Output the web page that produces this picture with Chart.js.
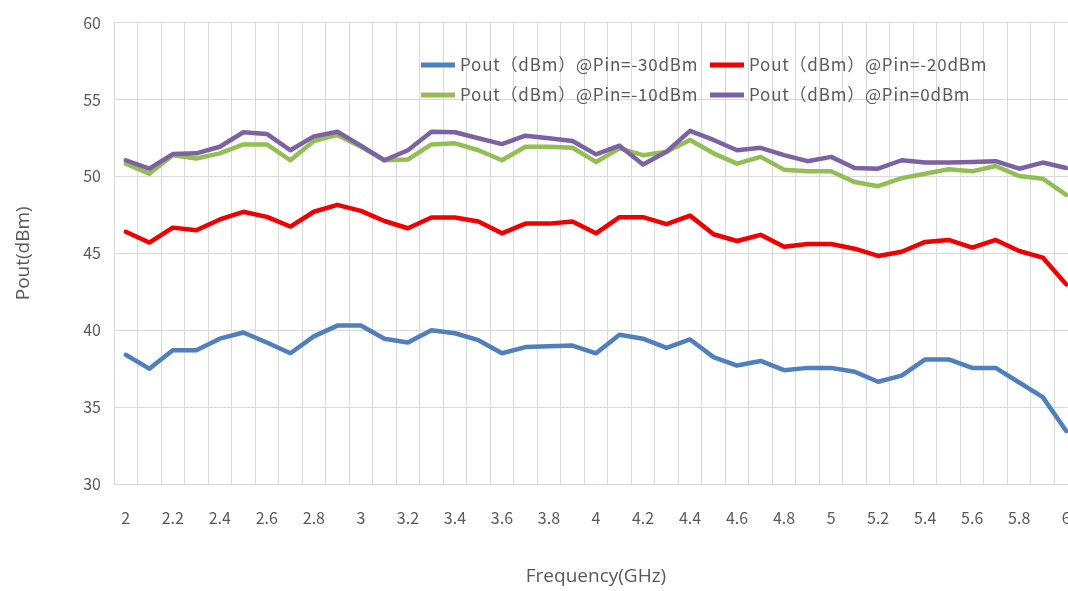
<!DOCTYPE html>
<html>
<head>
<meta charset="utf-8">
<script src="https://cdn.jsdelivr.net/npm/chart.js@4"></script>
<style>
  html, body { margin: 0; padding: 0; background: #fff; overflow: hidden; }
</style>
</head>
<body>
<canvas id="powerChart" width="1078" height="591"></canvas>
<script>
const freqs = ['2', '2.1', '2.2', '2.3', '2.4', '2.5', '2.6', '2.7', '2.8', '2.9',
  '3', '3.1', '3.2', '3.3', '3.4', '3.5', '3.6', '3.7', '3.8', '3.9',
  '4', '4.1', '4.2', '4.3', '4.4', '4.5', '4.6', '4.7', '4.8', '4.9',
  '5', '5.1', '5.2', '5.3', '5.4', '5.5', '5.6', '5.7', '5.8', '5.9', '6'];
const shownTicks = ['2', '2.2', '2.4', '2.6', '2.8', '3', '3.2', '3.4', '3.6', '3.8',
  '4', '4.2', '4.4', '4.6', '4.8', '5', '5.2', '5.4', '5.6', '5.8', '6'];

const pin30 = [38.4, 37.5, 38.7, 38.7, 39.45, 39.85, 39.2, 38.5, 39.6, 40.3,
  40.3, 39.45, 39.2, 40.0, 39.8, 39.35, 38.5, 38.9, 38.95, 39.0,
  38.5, 39.7, 39.45, 38.85, 39.4, 38.25, 37.7, 38.0, 37.4, 37.55,
  37.55, 37.3, 36.65, 37.05, 38.1, 38.1, 37.55, 37.55, 36.6, 35.65, 33.45];
const pin20 = [46.4, 45.7, 46.67, 46.5, 47.2, 47.7, 47.37, 46.74, 47.7, 48.15,
  47.76, 47.1, 46.63, 47.33, 47.33, 47.07, 46.3, 46.93, 46.93, 47.07,
  46.3, 47.35, 47.35, 46.9, 47.45, 46.24, 45.8, 46.2, 45.43, 45.6,
  45.6, 45.3, 44.83, 45.1, 45.74, 45.87, 45.37, 45.87, 45.15, 44.72, 42.98];
const pin10 = [50.83, 50.17, 51.38, 51.16, 51.5, 52.08, 52.08, 51.05, 52.3, 52.7,
  51.93, 51.05, 51.1, 52.08, 52.15, 51.7, 51.05, 51.93, 51.93, 51.86,
  50.94, 51.82, 51.38, 51.6, 52.37, 51.5, 50.83, 51.27, 50.44, 50.33,
  50.33, 49.63, 49.36, 49.89, 50.17, 50.46, 50.33, 50.68, 50.02, 49.85, 48.8];
const pin0 = [51.05, 50.5, 51.45, 51.5, 51.93, 52.87, 52.76, 51.7, 52.6, 52.9,
  52.0, 51.05, 51.7, 52.9, 52.87, 52.48, 52.1, 52.65, 52.48, 52.3,
  51.43, 52.0, 50.77, 51.6, 52.96, 52.37, 51.7, 51.86, 51.38, 50.99,
  51.27, 50.55, 50.5, 51.05, 50.9, 50.9, 50.94, 50.99, 50.5, 50.9, 50.55];

const seriesNames = ['Pout（dBm）@Pin=-30dBm', 'Pout（dBm）@Pin=-20dBm',
  'Pout（dBm）@Pin=-10dBm', 'Pout（dBm）@Pin=0dBm'];
const seriesColors = ['#4f7fbd', '#f00000', '#93bd55', '#7d62a3'];

const gridColor = '#d9d9d9';
const textColor = '#595959';

// legend sits inside the plot, two rows by two columns
const insideLegend = {
  id: 'insideLegend',
  afterDraw(chart) {
    const ctx = chart.ctx;
    const colX = [421, 710];
    const rowY = [65, 95];
    ctx.save();
    ctx.font = '17px "Noto Sans CJK SC", "Noto Sans", sans-serif';
    ctx.letterSpacing = '0.8px';
    ctx.textBaseline = 'middle';
    ctx.fillStyle = textColor;
    chart.data.datasets.forEach((ds, i) => {
      const x = colX[i % 2];
      const y = rowY[Math.floor(i / 2)];
      ctx.strokeStyle = ds.borderColor;
      ctx.lineWidth = 5;
      ctx.beginPath();
      ctx.moveTo(x, y);
      ctx.lineTo(x + 34, y);
      ctx.stroke();
      ctx.fillText(ds.label, x + 39, y);
    });
    ctx.restore();
  },
};

const datasets = [pin30, pin20, pin10, pin0].map((vals, i) => ({
  label: seriesNames[i],
  data: vals,
  borderColor: seriesColors[i],
  backgroundColor: seriesColors[i],
  borderWidth: 4.5,
  pointRadius: 0,
  tension: 0,
  borderJoinStyle: 'round',
  borderCapStyle: 'round',
  order: 3 - i,
}));

new Chart(document.getElementById('powerChart'), {
  type: 'line',
  data: { labels: freqs, datasets },
  plugins: [insideLegend],
  options: {
    responsive: false,
    animation: false,
    layout: { padding: { top: 22, right: 0, left: 0, bottom: 0 } },
    plugins: { legend: { display: false }, tooltip: { enabled: false } },
    scales: {
      x: {
        type: 'category',
        offset: true,
        grid: {
          offset: true,
          color: gridColor,
          drawTicks: true,
          tickLength: 22,
          tickColor: 'rgba(0,0,0,0)',
        },
        border: { color: gridColor },
        afterFit: (scale) => { scale.height = 107; },
        ticks: {
          autoSkip: false,
          maxRotation: 0,
          padding: 2,
          color: textColor,
          font: { family: '"Noto Sans CJK SC", "Noto Sans", sans-serif', size: 16 },
          callback: function (value) {
            const lab = this.getLabelForValue(value);
            return shownTicks.includes(lab) ? lab : '';
          },
        },
        title: {
          display: true,
          text: 'Frequency(GHz)',
          color: textColor,
          font: { family: '"Open Sans", sans-serif', size: 19 },
          padding: { top: 0, bottom: 3 },
        },
      },
      y: {
        min: 30,
        max: 60,
        afterFit: (scale) => { scale.width = 114; },
        grid: { color: gridColor, drawTicks: false },
        border: { color: gridColor },
        ticks: {
          stepSize: 5,
          padding: 13,
          color: textColor,
          font: { family: '"Noto Sans CJK SC", "Noto Sans", sans-serif', size: 16 },
        },
        title: {
          display: true,
          text: 'Pout(dBm)',
          color: textColor,
          font: { family: '"Open Sans", sans-serif', size: 19 },
          padding: { top: 12, bottom: 0 },
        },
      },
    },
  },
});
</script>
</body>
</html>
